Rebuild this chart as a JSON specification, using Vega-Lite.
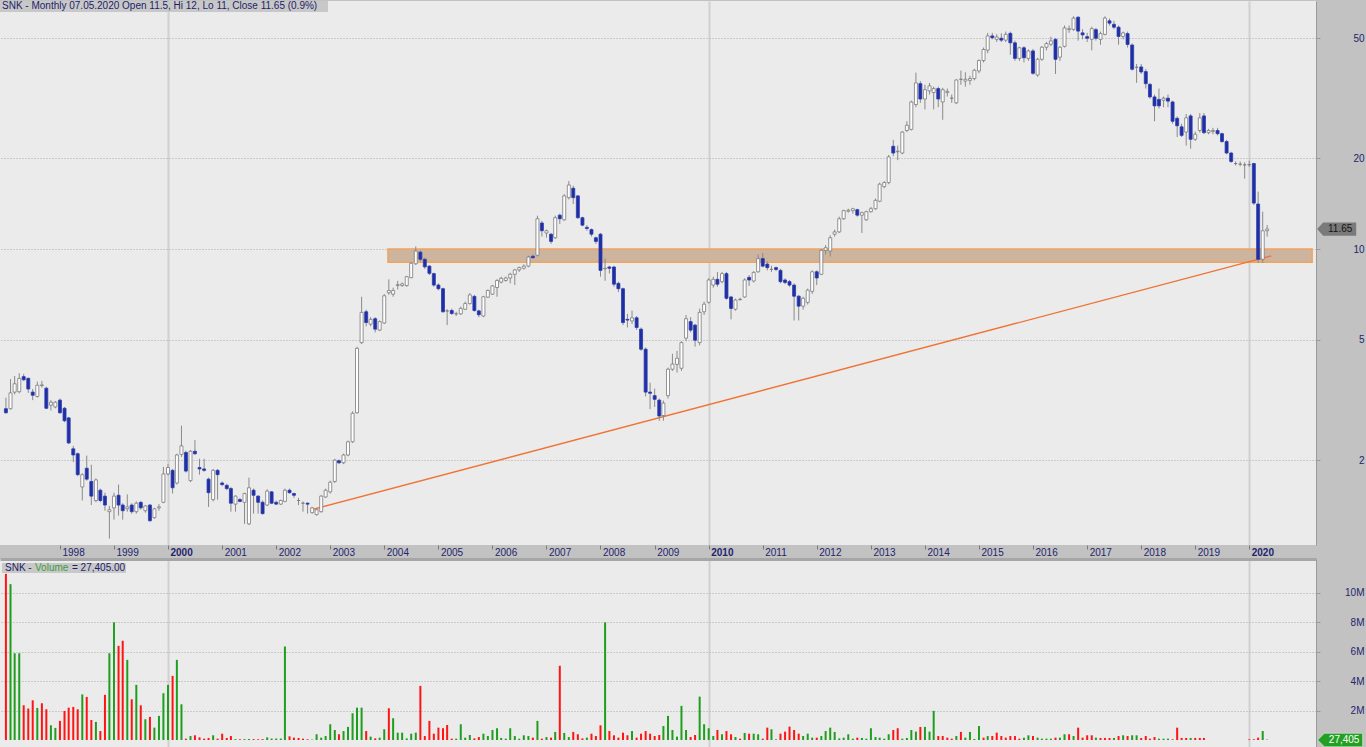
{
  "$schema": "https://vega.github.io/schema/vega-lite/v6.json",
  "background": "#c2c2c2",
  "padding": 0,
  "autosize": {"type": "pad"},
  "bounds": "flush",
  "spacing": 14,
  "config": {
    "view": {"stroke": null, "fill": "#ebebeb"},
    "axis": {"labelFont": "Liberation Sans", "labelFontSize": 10, "labelColor": "#24246c"},
    "text": {"font": "Liberation Sans", "fontSize": 10}
  },
  "datasets": {
    "p": [
      {"d":"1997-01-01","o":2.96,"h":3.22,"l":2.85,"c":2.87,"v":11.3,"g":0},
      {"d":"1997-02-01","o":2.96,"h":3.71,"l":2.94,"c":3.34,"v":10.6,"g":1},
      {"d":"1997-03-01","o":3.36,"h":3.80,"l":3.30,"c":3.58,"v":5.9,"g":1},
      {"d":"1997-04-01","o":3.37,"h":3.88,"l":3.33,"c":3.73,"v":5.9,"g":1},
      {"d":"1997-05-01","o":3.78,"h":3.86,"l":3.66,"c":3.69,"v":2.36,"g":0},
      {"d":"1997-06-01","o":3.73,"h":3.76,"l":3.34,"c":3.44,"v":2.14,"g":0},
      {"d":"1997-07-01","o":3.36,"h":3.44,"l":3.16,"c":3.28,"v":2.7,"g":0},
      {"d":"1997-08-01","o":3.25,"h":3.64,"l":3.22,"c":3.54,"v":2.18,"g":1},
      {"d":"1997-09-01","o":3.53,"h":3.66,"l":3.48,"c":3.55,"v":2.5,"g":0},
      {"d":"1997-10-01","o":3.46,"h":3.50,"l":2.95,"c":2.97,"v":2.09,"g":0},
      {"d":"1997-11-01","o":3.04,"h":3.16,"l":2.92,"c":3.11,"v":1.0,"g":1},
      {"d":"1997-12-01","o":3.00,"h":3.14,"l":2.97,"c":3.11,"v":0.82,"g":1},
      {"d":"1998-01-01","o":3.16,"h":3.20,"l":2.85,"c":2.87,"v":1.3,"g":0},
      {"d":"1998-02-01","o":2.97,"h":3.00,"l":2.67,"c":2.70,"v":1.98,"g":0},
      {"d":"1998-03-01","o":2.76,"h":2.78,"l":2.26,"c":2.28,"v":2.2,"g":0},
      {"d":"1998-04-01","o":2.18,"h":2.23,"l":1.97,"c":2.08,"v":2.25,"g":0},
      {"d":"1998-05-01","o":2.10,"h":2.12,"l":1.77,"c":1.79,"v":2.09,"g":0},
      {"d":"1998-06-01","o":1.63,"h":1.81,"l":1.47,"c":1.79,"v":3.1,"g":1},
      {"d":"1998-07-01","o":1.88,"h":2.07,"l":1.71,"c":1.73,"v":2.93,"g":0},
      {"d":"1998-08-01","o":1.70,"h":1.93,"l":1.42,"c":1.52,"v":1.36,"g":0},
      {"d":"1998-09-01","o":1.47,"h":1.74,"l":1.45,"c":1.72,"v":1.23,"g":1},
      {"d":"1998-10-01","o":1.59,"h":1.61,"l":1.45,"c":1.47,"v":0.61,"g":0},
      {"d":"1998-11-01","o":1.52,"h":1.56,"l":1.36,"c":1.42,"v":3.07,"g":0},
      {"d":"1998-12-01","o":1.35,"h":1.41,"l":1.10,"c":1.37,"v":5.9,"g":1},
      {"d":"1999-01-01","o":1.39,"h":1.56,"l":1.27,"c":1.52,"v":8.0,"g":1},
      {"d":"1999-02-01","o":1.53,"h":1.66,"l":1.31,"c":1.42,"v":6.4,"g":0},
      {"d":"1999-03-01","o":1.42,"h":1.44,"l":1.27,"c":1.36,"v":6.75,"g":0},
      {"d":"1999-04-01","o":1.38,"h":1.54,"l":1.35,"c":1.40,"v":5.45,"g":1},
      {"d":"1999-05-01","o":1.42,"h":1.44,"l":1.33,"c":1.35,"v":2.77,"g":0},
      {"d":"1999-06-01","o":1.35,"h":1.46,"l":1.33,"c":1.44,"v":3.75,"g":1},
      {"d":"1999-07-01","o":1.45,"h":1.46,"l":1.37,"c":1.39,"v":2.36,"g":0},
      {"d":"1999-08-01","o":1.36,"h":1.42,"l":1.34,"c":1.41,"v":1.41,"g":1},
      {"d":"1999-09-01","o":1.42,"h":1.43,"l":1.25,"c":1.26,"v":1.57,"g":0},
      {"d":"1999-10-01","o":1.29,"h":1.39,"l":1.28,"c":1.38,"v":0.84,"g":1},
      {"d":"1999-11-01","o":1.39,"h":1.43,"l":1.36,"c":1.40,"v":1.64,"g":1},
      {"d":"1999-12-01","o":1.45,"h":1.90,"l":1.44,"c":1.80,"v":3.18,"g":1},
      {"d":"2000-01-01","o":1.80,"h":1.94,"l":1.78,"c":1.89,"v":3.75,"g":1},
      {"d":"2000-02-01","o":1.85,"h":1.87,"l":1.55,"c":1.62,"v":4.36,"g":0},
      {"d":"2000-03-01","o":1.68,"h":2.10,"l":1.66,"c":2.08,"v":5.45,"g":1},
      {"d":"2000-04-01","o":2.09,"h":2.60,"l":2.05,"c":2.23,"v":2.43,"g":1},
      {"d":"2000-05-01","o":2.12,"h":2.15,"l":1.82,"c":1.84,"v":0.09,"g":0},
      {"d":"2000-06-01","o":1.71,"h":2.16,"l":1.69,"c":2.14,"v":0.27,"g":1},
      {"d":"2000-07-01","o":2.14,"h":2.33,"l":2.08,"c":2.10,"v":0.32,"g":0},
      {"d":"2000-08-01","o":1.89,"h":2.02,"l":1.79,"c":1.87,"v":0.18,"g":0},
      {"d":"2000-09-01","o":1.87,"h":2.02,"l":1.83,"c":1.85,"v":0.09,"g":0},
      {"d":"2000-10-01","o":1.73,"h":1.75,"l":1.40,"c":1.56,"v":0.14,"g":0},
      {"d":"2000-11-01","o":1.48,"h":1.87,"l":1.46,"c":1.85,"v":0.32,"g":1},
      {"d":"2000-12-01","o":1.85,"h":1.87,"l":1.48,"c":1.79,"v":0.09,"g":0},
      {"d":"2001-01-01","o":1.68,"h":1.70,"l":1.64,"c":1.66,"v":0.43,"g":0},
      {"d":"2001-02-01","o":1.65,"h":1.67,"l":1.59,"c":1.61,"v":0.14,"g":0},
      {"d":"2001-03-01","o":1.61,"h":1.63,"l":1.35,"c":1.44,"v":0.27,"g":0},
      {"d":"2001-04-01","o":1.43,"h":1.53,"l":1.35,"c":1.52,"v":0.06,"g":1},
      {"d":"2001-05-01","o":1.48,"h":1.50,"l":1.45,"c":1.46,"v":0.05,"g":0},
      {"d":"2001-06-01","o":1.45,"h":1.56,"l":1.23,"c":1.55,"v":0.06,"g":1},
      {"d":"2001-07-01","o":1.23,"h":1.75,"l":1.22,"c":1.62,"v":0.07,"g":1},
      {"d":"2001-08-01","o":1.59,"h":1.61,"l":1.33,"c":1.53,"v":0.06,"g":0},
      {"d":"2001-09-01","o":1.52,"h":1.53,"l":1.33,"c":1.45,"v":0.05,"g":0},
      {"d":"2001-10-01","o":1.45,"h":1.47,"l":1.32,"c":1.33,"v":0.06,"g":0},
      {"d":"2001-11-01","o":1.42,"h":1.60,"l":1.41,"c":1.58,"v":0.18,"g":1},
      {"d":"2001-12-01","o":1.57,"h":1.58,"l":1.43,"c":1.44,"v":0.1,"g":1},
      {"d":"2002-01-01","o":1.45,"h":1.47,"l":1.42,"c":1.43,"v":0.1,"g":1},
      {"d":"2002-02-01","o":1.43,"h":1.48,"l":1.42,"c":1.47,"v":0.1,"g":1},
      {"d":"2002-03-01","o":1.46,"h":1.61,"l":1.45,"c":1.59,"v":6.36,"g":1},
      {"d":"2002-04-01","o":1.59,"h":1.61,"l":1.55,"c":1.56,"v":0.25,"g":0},
      {"d":"2002-05-01","o":1.55,"h":1.56,"l":1.50,"c":1.53,"v":0.16,"g":0},
      {"d":"2002-06-01","o":1.47,"h":1.50,"l":1.42,"c":1.47,"v":0.14,"g":0},
      {"d":"2002-07-01","o":1.44,"h":1.46,"l":1.35,"c":1.44,"v":0.09,"g":0},
      {"d":"2002-08-01","o":1.44,"h":1.45,"l":1.33,"c":1.43,"v":0.05,"g":0},
      {"d":"2002-09-01","o":1.34,"h":1.40,"l":1.33,"c":1.39,"v":0.03,"g":1},
      {"d":"2002-10-01","o":1.32,"h":1.38,"l":1.31,"c":1.37,"v":0.39,"g":1},
      {"d":"2002-11-01","o":1.35,"h":1.53,"l":1.34,"c":1.52,"v":0.16,"g":1},
      {"d":"2002-12-01","o":1.51,"h":1.61,"l":1.50,"c":1.59,"v":0.27,"g":1},
      {"d":"2003-01-01","o":1.57,"h":1.71,"l":1.55,"c":1.69,"v":1.07,"g":1},
      {"d":"2003-02-01","o":1.70,"h":2.02,"l":1.68,"c":2.00,"v":0.68,"g":1},
      {"d":"2003-03-01","o":1.99,"h":2.01,"l":1.94,"c":1.96,"v":0.39,"g":0},
      {"d":"2003-04-01","o":1.96,"h":2.10,"l":1.94,"c":2.08,"v":0.61,"g":1},
      {"d":"2003-05-01","o":2.08,"h":2.32,"l":2.06,"c":2.30,"v":0.89,"g":1},
      {"d":"2003-06-01","o":2.30,"h":2.90,"l":2.28,"c":2.86,"v":1.82,"g":1},
      {"d":"2003-07-01","o":2.87,"h":4.75,"l":2.85,"c":4.69,"v":2.2,"g":1},
      {"d":"2003-08-01","o":4.90,"h":6.95,"l":4.85,"c":6.17,"v":2.2,"g":1},
      {"d":"2003-09-01","o":6.20,"h":6.30,"l":5.55,"c":5.71,"v":0.61,"g":0},
      {"d":"2003-10-01","o":5.64,"h":5.95,"l":5.55,"c":5.85,"v":0.23,"g":1},
      {"d":"2003-11-01","o":5.88,"h":5.95,"l":5.30,"c":5.43,"v":0.11,"g":0},
      {"d":"2003-12-01","o":5.39,"h":5.80,"l":5.35,"c":5.75,"v":0.16,"g":1},
      {"d":"2004-01-01","o":5.69,"h":7.10,"l":5.65,"c":7.00,"v":0.73,"g":1},
      {"d":"2004-02-01","o":7.17,"h":7.94,"l":7.05,"c":7.29,"v":2.16,"g":0},
      {"d":"2004-03-01","o":7.09,"h":7.45,"l":6.95,"c":7.29,"v":1.48,"g":1},
      {"d":"2004-04-01","o":7.58,"h":7.85,"l":7.35,"c":7.62,"v":0.5,"g":1},
      {"d":"2004-05-01","o":7.57,"h":7.75,"l":7.50,"c":7.67,"v":0.5,"g":1},
      {"d":"2004-06-01","o":7.57,"h":8.15,"l":7.50,"c":8.10,"v":0.11,"g":1},
      {"d":"2004-07-01","o":8.04,"h":9.05,"l":8.00,"c":8.97,"v":0.43,"g":1},
      {"d":"2004-08-01","o":8.94,"h":10.2,"l":8.85,"c":9.85,"v":0.5,"g":1},
      {"d":"2004-09-01","o":9.77,"h":9.90,"l":9.10,"c":9.25,"v":3.68,"g":0},
      {"d":"2004-10-01","o":9.25,"h":9.35,"l":8.60,"c":8.73,"v":0.27,"g":0},
      {"d":"2004-11-01","o":8.78,"h":8.85,"l":8.20,"c":8.31,"v":1.3,"g":0},
      {"d":"2004-12-01","o":8.29,"h":8.35,"l":7.50,"c":7.60,"v":0.43,"g":0},
      {"d":"2005-01-01","o":7.60,"h":7.70,"l":7.30,"c":7.39,"v":0.84,"g":0},
      {"d":"2005-02-01","o":7.39,"h":7.45,"l":6.15,"c":6.20,"v":0.8,"g":0},
      {"d":"2005-03-01","o":6.24,"h":6.32,"l":5.60,"c":6.24,"v":1.02,"g":0},
      {"d":"2005-04-01","o":6.26,"h":6.35,"l":6.05,"c":6.12,"v":0.09,"g":0},
      {"d":"2005-05-01","o":6.10,"h":6.20,"l":6.00,"c":6.11,"v":0.09,"g":1},
      {"d":"2005-06-01","o":6.10,"h":6.45,"l":6.05,"c":6.36,"v":1.07,"g":1},
      {"d":"2005-07-01","o":6.32,"h":6.70,"l":6.28,"c":6.60,"v":0.16,"g":1},
      {"d":"2005-08-01","o":6.60,"h":7.15,"l":6.55,"c":7.05,"v":0.34,"g":1},
      {"d":"2005-09-01","o":6.97,"h":7.05,"l":6.20,"c":6.26,"v":0.11,"g":0},
      {"d":"2005-10-01","o":6.24,"h":6.30,"l":5.95,"c":6.06,"v":0.2,"g":0},
      {"d":"2005-11-01","o":6.00,"h":7.00,"l":5.95,"c":6.95,"v":0.43,"g":1},
      {"d":"2005-12-01","o":6.93,"h":7.35,"l":6.88,"c":7.29,"v":0.27,"g":1},
      {"d":"2006-01-01","o":7.09,"h":7.60,"l":7.05,"c":7.55,"v":0.68,"g":1},
      {"d":"2006-02-01","o":7.46,"h":7.95,"l":6.95,"c":7.87,"v":0.8,"g":1},
      {"d":"2006-03-01","o":7.77,"h":8.10,"l":7.70,"c":8.00,"v":0.14,"g":1},
      {"d":"2006-04-01","o":7.87,"h":8.10,"l":7.80,"c":8.02,"v":0.09,"g":1},
      {"d":"2006-05-01","o":8.02,"h":8.35,"l":7.70,"c":8.25,"v":0.8,"g":1},
      {"d":"2006-06-01","o":8.25,"h":8.60,"l":7.60,"c":8.53,"v":0.27,"g":1},
      {"d":"2006-07-01","o":8.53,"h":8.75,"l":8.40,"c":8.68,"v":0.09,"g":1},
      {"d":"2006-08-01","o":8.64,"h":8.90,"l":8.55,"c":8.78,"v":0.32,"g":1},
      {"d":"2006-09-01","o":8.78,"h":9.50,"l":8.70,"c":9.41,"v":0.27,"g":1},
      {"d":"2006-10-01","o":9.47,"h":9.60,"l":9.30,"c":9.36,"v":0.16,"g":0},
      {"d":"2006-11-01","o":9.54,"h":12.9,"l":9.45,"c":12.6,"v":1.3,"g":1},
      {"d":"2006-12-01","o":12.2,"h":12.4,"l":11.0,"c":11.5,"v":0.09,"g":0},
      {"d":"2007-01-01","o":11.3,"h":11.6,"l":10.9,"c":11.5,"v":0.2,"g":1},
      {"d":"2007-02-01","o":11.2,"h":11.3,"l":10.4,"c":10.6,"v":0.16,"g":0},
      {"d":"2007-03-01","o":10.9,"h":12.9,"l":10.8,"c":12.7,"v":0.55,"g":1},
      {"d":"2007-04-01","o":12.95,"h":13.1,"l":12.1,"c":12.6,"v":5.05,"g":0},
      {"d":"2007-05-01","o":12.5,"h":15.2,"l":12.4,"c":15.0,"v":0.48,"g":1},
      {"d":"2007-06-01","o":14.8,"h":16.8,"l":14.6,"c":16.3,"v":0.2,"g":1},
      {"d":"2007-07-01","o":15.9,"h":16.2,"l":14.1,"c":14.8,"v":0.55,"g":0},
      {"d":"2007-08-01","o":15.0,"h":15.1,"l":12.6,"c":12.7,"v":0.39,"g":0},
      {"d":"2007-09-01","o":12.7,"h":12.8,"l":11.9,"c":12.0,"v":0.11,"g":0},
      {"d":"2007-10-01","o":11.8,"h":12.0,"l":11.5,"c":11.7,"v":0.16,"g":1},
      {"d":"2007-11-01","o":11.6,"h":11.7,"l":11.0,"c":11.2,"v":0.43,"g":0},
      {"d":"2007-12-01","o":10.9,"h":11.0,"l":10.4,"c":10.6,"v":0.27,"g":0},
      {"d":"2008-01-01","o":11.2,"h":11.3,"l":8.1,"c":8.5,"v":1.0,"g":0},
      {"d":"2008-02-01","o":8.6,"h":9.3,"l":7.85,"c":8.64,"v":8.0,"g":1},
      {"d":"2008-03-01","o":8.72,"h":8.80,"l":8.30,"c":8.64,"v":0.61,"g":0},
      {"d":"2008-04-01","o":8.72,"h":8.80,"l":7.50,"c":7.65,"v":0.32,"g":0},
      {"d":"2008-05-01","o":7.70,"h":7.80,"l":7.20,"c":7.39,"v":0.16,"g":0},
      {"d":"2008-06-01","o":7.39,"h":7.45,"l":5.60,"c":5.71,"v":0.5,"g":0},
      {"d":"2008-07-01","o":5.85,"h":6.10,"l":5.50,"c":5.82,"v":0.32,"g":0},
      {"d":"2008-08-01","o":5.78,"h":6.25,"l":5.65,"c":5.92,"v":0.61,"g":1},
      {"d":"2008-09-01","o":5.92,"h":6.00,"l":5.40,"c":5.50,"v":0.16,"g":0},
      {"d":"2008-10-01","o":5.43,"h":5.50,"l":4.60,"c":4.66,"v":0.43,"g":0},
      {"d":"2008-11-01","o":4.66,"h":4.72,"l":3.25,"c":3.36,"v":0.61,"g":0},
      {"d":"2008-12-01","o":3.36,"h":3.61,"l":2.95,"c":3.33,"v":0.43,"g":0},
      {"d":"2009-01-01","o":3.27,"h":3.45,"l":3.00,"c":3.18,"v":0.27,"g":0},
      {"d":"2009-02-01","o":3.16,"h":3.20,"l":2.70,"c":2.80,"v":0.34,"g":0},
      {"d":"2009-03-01","o":2.81,"h":3.15,"l":2.70,"c":3.09,"v":0.95,"g":1},
      {"d":"2009-04-01","o":3.27,"h":4.05,"l":3.20,"c":4.00,"v":1.64,"g":1},
      {"d":"2009-05-01","o":4.00,"h":4.50,"l":3.95,"c":4.16,"v":0.68,"g":1},
      {"d":"2009-06-01","o":4.15,"h":4.60,"l":3.90,"c":4.35,"v":0.23,"g":1},
      {"d":"2009-07-01","o":4.03,"h":4.95,"l":3.95,"c":4.90,"v":2.32,"g":1},
      {"d":"2009-08-01","o":5.07,"h":6.05,"l":4.95,"c":5.88,"v":0.68,"g":1},
      {"d":"2009-09-01","o":5.75,"h":5.95,"l":5.30,"c":5.39,"v":0.2,"g":0},
      {"d":"2009-10-01","o":5.60,"h":5.65,"l":4.75,"c":4.99,"v":0.34,"g":0},
      {"d":"2009-11-01","o":4.90,"h":6.35,"l":4.80,"c":6.17,"v":2.95,"g":1},
      {"d":"2009-12-01","o":6.20,"h":6.70,"l":6.05,"c":6.57,"v":1.07,"g":1},
      {"d":"2010-01-01","o":6.66,"h":8.00,"l":6.60,"c":7.90,"v":0.8,"g":1},
      {"d":"2010-02-01","o":7.60,"h":8.10,"l":7.45,"c":7.94,"v":0.27,"g":1},
      {"d":"2010-03-01","o":7.94,"h":8.40,"l":7.50,"c":7.65,"v":0.68,"g":0},
      {"d":"2010-04-01","o":7.80,"h":8.40,"l":7.70,"c":8.29,"v":0.39,"g":1},
      {"d":"2010-05-01","o":8.29,"h":8.40,"l":6.80,"c":6.87,"v":0.61,"g":0},
      {"d":"2010-06-01","o":6.94,"h":7.00,"l":5.85,"c":6.36,"v":0.39,"g":0},
      {"d":"2010-07-01","o":6.32,"h":6.85,"l":6.25,"c":6.78,"v":0.2,"g":1},
      {"d":"2010-08-01","o":6.80,"h":6.90,"l":6.75,"c":6.82,"v":0.09,"g":0},
      {"d":"2010-09-01","o":6.94,"h":8.00,"l":6.90,"c":7.90,"v":0.48,"g":1},
      {"d":"2010-10-01","o":8.06,"h":8.20,"l":7.55,"c":7.90,"v":0.43,"g":0},
      {"d":"2010-11-01","o":7.84,"h":8.45,"l":7.75,"c":8.37,"v":0.43,"g":1},
      {"d":"2010-12-01","o":8.41,"h":9.60,"l":8.35,"c":9.30,"v":0.39,"g":1},
      {"d":"2011-01-01","o":9.30,"h":9.70,"l":8.70,"c":8.78,"v":0.09,"g":0},
      {"d":"2011-02-01","o":8.92,"h":9.10,"l":8.50,"c":8.68,"v":0.84,"g":0},
      {"d":"2011-03-01","o":8.56,"h":8.80,"l":8.40,"c":8.56,"v":0.73,"g":1},
      {"d":"2011-04-01","o":8.68,"h":8.75,"l":8.45,"c":8.56,"v":0.05,"g":1},
      {"d":"2011-05-01","o":8.50,"h":8.60,"l":7.70,"c":7.80,"v":0.43,"g":0},
      {"d":"2011-06-01","o":7.90,"h":8.00,"l":7.65,"c":7.75,"v":0.57,"g":0},
      {"d":"2011-07-01","o":7.80,"h":7.90,"l":7.50,"c":7.60,"v":0.91,"g":0},
      {"d":"2011-08-01","o":7.60,"h":7.70,"l":5.80,"c":6.98,"v":0.68,"g":0},
      {"d":"2011-09-01","o":6.98,"h":7.05,"l":5.80,"c":6.47,"v":0.43,"g":0},
      {"d":"2011-10-01","o":6.47,"h":6.95,"l":6.30,"c":6.87,"v":0.27,"g":1},
      {"d":"2011-11-01","o":6.66,"h":7.40,"l":6.55,"c":7.31,"v":0.43,"g":1},
      {"d":"2011-12-01","o":7.24,"h":8.50,"l":7.10,"c":8.41,"v":0.16,"g":1},
      {"d":"2012-01-01","o":8.41,"h":8.50,"l":7.60,"c":8.02,"v":0.16,"g":0},
      {"d":"2012-02-01","o":8.25,"h":10.0,"l":8.20,"c":9.90,"v":0.27,"g":1},
      {"d":"2012-03-01","o":9.90,"h":10.3,"l":9.60,"c":10.1,"v":0.61,"g":1},
      {"d":"2012-04-01","o":9.85,"h":11.1,"l":9.45,"c":10.9,"v":0.84,"g":1},
      {"d":"2012-05-01","o":11.2,"h":11.6,"l":11.0,"c":11.4,"v":0.55,"g":1},
      {"d":"2012-06-01","o":11.4,"h":12.8,"l":11.3,"c":12.6,"v":0.11,"g":1},
      {"d":"2012-07-01","o":12.6,"h":13.5,"l":12.5,"c":13.4,"v":0.16,"g":1},
      {"d":"2012-08-01","o":13.35,"h":13.6,"l":13.2,"c":13.45,"v":0.39,"g":1},
      {"d":"2012-09-01","o":13.4,"h":13.7,"l":13.1,"c":13.6,"v":0.09,"g":1},
      {"d":"2012-10-01","o":13.5,"h":13.6,"l":12.8,"c":12.95,"v":0.16,"g":0},
      {"d":"2012-11-01","o":12.95,"h":13.3,"l":11.3,"c":13.2,"v":0.14,"g":1},
      {"d":"2012-12-01","o":12.5,"h":13.4,"l":12.4,"c":13.3,"v":0.09,"g":1},
      {"d":"2013-01-01","o":13.3,"h":13.8,"l":13.2,"c":13.6,"v":0.8,"g":1},
      {"d":"2013-02-01","o":13.6,"h":14.7,"l":13.5,"c":14.5,"v":0.2,"g":1},
      {"d":"2013-03-01","o":14.4,"h":16.6,"l":14.3,"c":16.4,"v":0.16,"g":1},
      {"d":"2013-04-01","o":16.1,"h":16.8,"l":15.9,"c":16.6,"v":0.09,"g":1},
      {"d":"2013-05-01","o":16.6,"h":20.5,"l":16.4,"c":20.2,"v":0.39,"g":1},
      {"d":"2013-06-01","o":21.9,"h":23.0,"l":20.3,"c":20.8,"v":0.68,"g":0},
      {"d":"2013-07-01","o":21.0,"h":22.0,"l":19.7,"c":21.1,"v":0.8,"g":0},
      {"d":"2013-08-01","o":20.8,"h":24.6,"l":20.6,"c":24.4,"v":0.09,"g":1},
      {"d":"2013-09-01","o":24.7,"h":26.5,"l":24.4,"c":25.7,"v":0.14,"g":1},
      {"d":"2013-10-01","o":24.9,"h":31.0,"l":24.7,"c":30.7,"v":0.68,"g":1},
      {"d":"2013-11-01","o":30.1,"h":38.4,"l":29.5,"c":35.5,"v":0.57,"g":1},
      {"d":"2013-12-01","o":35.3,"h":36.0,"l":30.5,"c":31.4,"v":0.89,"g":0},
      {"d":"2014-01-01","o":31.4,"h":35.0,"l":29.0,"c":33.7,"v":0.89,"g":1},
      {"d":"2014-02-01","o":33.4,"h":35.5,"l":32.5,"c":34.7,"v":0.57,"g":1},
      {"d":"2014-03-01","o":33.0,"h":34.5,"l":29.0,"c":34.0,"v":1.98,"g":1},
      {"d":"2014-04-01","o":34.0,"h":34.5,"l":29.5,"c":31.4,"v":0.27,"g":0},
      {"d":"2014-05-01","o":30.7,"h":34.2,"l":26.8,"c":33.7,"v":0.27,"g":0},
      {"d":"2014-06-01","o":33.0,"h":34.0,"l":32.0,"c":33.3,"v":0.16,"g":0},
      {"d":"2014-07-01","o":31.6,"h":32.5,"l":30.5,"c":31.6,"v":0.09,"g":0},
      {"d":"2014-08-01","o":30.5,"h":36.5,"l":30.2,"c":36.3,"v":0.27,"g":1},
      {"d":"2014-09-01","o":36.5,"h":39.0,"l":35.0,"c":36.5,"v":0.55,"g":0},
      {"d":"2014-10-01","o":36.0,"h":38.5,"l":34.5,"c":36.5,"v":0.16,"g":1},
      {"d":"2014-11-01","o":36.2,"h":37.5,"l":35.0,"c":36.7,"v":0.55,"g":1},
      {"d":"2014-12-01","o":36.7,"h":39.5,"l":36.2,"c":39.1,"v":0.07,"g":1},
      {"d":"2015-01-01","o":38.9,"h":42.5,"l":38.2,"c":42.1,"v":0.95,"g":1},
      {"d":"2015-02-01","o":42.1,"h":46.5,"l":41.5,"c":45.8,"v":0.16,"g":0},
      {"d":"2015-03-01","o":45.6,"h":52.0,"l":44.5,"c":50.8,"v":0.27,"g":1},
      {"d":"2015-04-01","o":50.8,"h":52.0,"l":49.5,"c":50.1,"v":0.27,"g":0},
      {"d":"2015-05-01","o":49.5,"h":51.5,"l":48.5,"c":50.4,"v":0.5,"g":0},
      {"d":"2015-06-01","o":49.9,"h":51.8,"l":48.5,"c":49.2,"v":0.27,"g":0},
      {"d":"2015-07-01","o":49.2,"h":52.5,"l":48.5,"c":51.4,"v":0.16,"g":0},
      {"d":"2015-08-01","o":51.8,"h":52.5,"l":44.0,"c":48.2,"v":0.27,"g":0},
      {"d":"2015-09-01","o":48.2,"h":49.0,"l":42.0,"c":42.8,"v":0.27,"g":0},
      {"d":"2015-10-01","o":42.8,"h":46.8,"l":42.0,"c":46.4,"v":0.09,"g":0},
      {"d":"2015-11-01","o":46.4,"h":47.0,"l":41.5,"c":43.0,"v":0.16,"g":1},
      {"d":"2015-12-01","o":42.8,"h":45.8,"l":42.0,"c":45.3,"v":0.32,"g":1},
      {"d":"2016-01-01","o":45.3,"h":46.0,"l":37.8,"c":38.2,"v":0.27,"g":0},
      {"d":"2016-02-01","o":37.7,"h":43.0,"l":37.2,"c":42.5,"v":0.16,"g":1},
      {"d":"2016-03-01","o":42.5,"h":47.0,"l":42.0,"c":46.6,"v":0.09,"g":1},
      {"d":"2016-04-01","o":46.6,"h":48.5,"l":45.5,"c":47.9,"v":0.09,"g":1},
      {"d":"2016-05-01","o":47.7,"h":50.5,"l":47.0,"c":48.9,"v":0.09,"g":1},
      {"d":"2016-06-01","o":49.5,"h":50.0,"l":38.0,"c":42.5,"v":0.16,"g":0},
      {"d":"2016-07-01","o":43.2,"h":47.0,"l":42.0,"c":46.6,"v":0.16,"g":1},
      {"d":"2016-08-01","o":46.9,"h":55.0,"l":46.5,"c":54.0,"v":0.39,"g":1},
      {"d":"2016-09-01","o":53.3,"h":55.0,"l":52.0,"c":53.7,"v":0.39,"g":0},
      {"d":"2016-10-01","o":53.4,"h":59.0,"l":52.8,"c":58.2,"v":0.27,"g":1},
      {"d":"2016-11-01","o":58.6,"h":59.0,"l":49.0,"c":52.7,"v":0.84,"g":0},
      {"d":"2016-12-01","o":52.0,"h":53.5,"l":49.5,"c":51.2,"v":0.16,"g":0},
      {"d":"2017-01-01","o":50.5,"h":52.0,"l":48.5,"c":49.9,"v":0.32,"g":0},
      {"d":"2017-02-01","o":49.5,"h":54.5,"l":45.5,"c":53.7,"v":0.32,"g":0},
      {"d":"2017-03-01","o":53.3,"h":54.0,"l":49.0,"c":49.9,"v":0.16,"g":1},
      {"d":"2017-04-01","o":49.5,"h":52.5,"l":47.5,"c":51.7,"v":0.14,"g":0},
      {"d":"2017-05-01","o":51.4,"h":59.0,"l":51.0,"c":58.2,"v":0.14,"g":0},
      {"d":"2017-06-01","o":57.0,"h":58.0,"l":55.0,"c":56.0,"v":0.14,"g":0},
      {"d":"2017-07-01","o":55.5,"h":57.0,"l":53.5,"c":54.3,"v":0.14,"g":1},
      {"d":"2017-08-01","o":54.3,"h":55.0,"l":47.5,"c":50.6,"v":0.27,"g":0},
      {"d":"2017-09-01","o":50.6,"h":52.5,"l":49.5,"c":52.0,"v":0.32,"g":1},
      {"d":"2017-10-01","o":51.7,"h":52.5,"l":46.5,"c":47.6,"v":0.27,"g":0},
      {"d":"2017-11-01","o":47.4,"h":48.0,"l":39.0,"c":39.4,"v":0.32,"g":1},
      {"d":"2017-12-01","o":40.0,"h":41.0,"l":35.5,"c":40.0,"v":0.32,"g":1},
      {"d":"2018-01-01","o":40.1,"h":41.0,"l":38.0,"c":38.6,"v":0.14,"g":0},
      {"d":"2018-02-01","o":38.7,"h":39.5,"l":34.0,"c":35.3,"v":0.27,"g":0},
      {"d":"2018-03-01","o":35.1,"h":35.5,"l":31.5,"c":31.9,"v":0.09,"g":0},
      {"d":"2018-04-01","o":31.9,"h":32.5,"l":26.5,"c":29.8,"v":0.2,"g":0},
      {"d":"2018-05-01","o":31.3,"h":34.0,"l":29.2,"c":29.8,"v":0.09,"g":1},
      {"d":"2018-06-01","o":31.1,"h":32.0,"l":29.5,"c":31.6,"v":0.09,"g":1},
      {"d":"2018-07-01","o":31.6,"h":32.5,"l":29.5,"c":30.9,"v":0.09,"g":1},
      {"d":"2018-08-01","o":30.7,"h":31.0,"l":26.0,"c":26.5,"v":0.05,"g":0},
      {"d":"2018-09-01","o":27.1,"h":27.5,"l":23.5,"c":25.6,"v":0.84,"g":0},
      {"d":"2018-10-01","o":25.4,"h":26.0,"l":23.5,"c":23.8,"v":0.14,"g":0},
      {"d":"2018-11-01","o":24.4,"h":28.0,"l":22.0,"c":27.2,"v":0.14,"g":0},
      {"d":"2018-12-01","o":27.6,"h":28.0,"l":21.5,"c":23.1,"v":0.14,"g":1},
      {"d":"2019-01-01","o":23.1,"h":24.5,"l":22.8,"c":24.0,"v":0.14,"g":0},
      {"d":"2019-02-01","o":24.7,"h":28.2,"l":24.3,"c":27.2,"v":0.14,"g":0},
      {"d":"2019-03-01","o":27.6,"h":28.2,"l":24.0,"c":24.3,"v":0.14,"g":0},
      {"d":"2019-04-01","o":24.3,"h":25.0,"l":24.0,"c":24.7,"v":0,"g":1},
      {"d":"2019-05-01","o":24.5,"h":25.2,"l":24.0,"c":24.7,"v":0,"g":1},
      {"d":"2019-06-01","o":24.7,"h":25.2,"l":23.8,"c":24.1,"v":0,"g":1},
      {"d":"2019-07-01","o":24.1,"h":24.3,"l":22.5,"c":22.7,"v":0,"g":1},
      {"d":"2019-08-01","o":22.7,"h":23.0,"l":20.6,"c":20.8,"v":0,"g":1},
      {"d":"2019-09-01","o":20.8,"h":21.0,"l":19.3,"c":19.5,"v":0,"g":1},
      {"d":"2019-10-01","o":19.2,"h":19.5,"l":18.9,"c":19.2,"v":0,"g":1},
      {"d":"2019-11-01","o":19.1,"h":19.5,"l":18.8,"c":19.1,"v":0,"g":1},
      {"d":"2019-12-01","o":19.0,"h":19.4,"l":17.1,"c":19.0,"v":0,"g":1},
      {"d":"2020-01-01","o":19.0,"h":19.6,"l":18.7,"c":19.05,"v":0.05,"g":0},
      {"d":"2020-02-01","o":19.2,"h":19.3,"l":14.0,"c":14.2,"v":0.05,"g":0},
      {"d":"2020-03-01","o":14.1,"h":15.5,"l":9.0,"c":9.25,"v":0.16,"g":0},
      {"d":"2020-04-01","o":9.25,"h":13.3,"l":9.0,"c":11.5,"v":0.61,"g":1},
      {"d":"2020-05-01","o":11.5,"h":12.0,"l":11.0,"c":11.65,"v":0.027,"g":1}
    ]
  },
  "resolve": {"scale": {"x": "independent", "y": "independent"}},
  "vconcat": [
    {
      "width": 1316,
      "height": 544,
      "layer": [
        {
          "data": {"values": [{"d": "2004-01-26", "d2": "2021-03-01", "lo": 9.05, "hi": 10.0}]},
          "mark": {"type": "rect", "fill": "#ccb49e", "stroke": "#f2a35e", "strokeWidth": 1.5},
          "encoding": {
            "x": {"field": "d", "type": "temporal", "title": null,
              "scale": {"type": "utc", "padding": 0, "domain": [{"year": 1996, "month": 11, "date": 22, "utc": true}, {"year": 2021, "month": 3, "date": 27, "utc": true}]},
              "axis": {
                "orient": "bottom",
                "values": [{"year":1998,"utc":true},{"year":1999,"utc":true},{"year":2000,"utc":true},{"year":2001,"utc":true},{"year":2002,"utc":true},{"year":2003,"utc":true},{"year":2004,"utc":true},{"year":2005,"utc":true},{"year":2006,"utc":true},{"year":2007,"utc":true},{"year":2008,"utc":true},{"year":2009,"utc":true},{"year":2010,"utc":true},{"year":2011,"utc":true},{"year":2012,"utc":true},{"year":2013,"utc":true},{"year":2014,"utc":true},{"year":2015,"utc":true},{"year":2016,"utc":true},{"year":2017,"utc":true},{"year":2018,"utc":true},{"year":2019,"utc":true},{"year":2020,"utc":true}],
                "format": "%Y",
                "labelAlign": "left",
                "labelOffset": 2,
                "labelPadding": -2,
                "labelBaseline": "top",
                "tickSize": 4,
                "tickColor": "#7a7a7a",
                "domain": false,
                "grid": true,
                "gridColor": "#d0d0d0",
                "gridWidth": 2,
                "gridOpacity": {"condition": {"test": "utcyear(datum.value) % 10 === 0", "value": 1}, "value": 0},
                "labelFontWeight": {"condition": {"test": "utcyear(datum.value) % 10 === 0", "value": "bold"}, "value": "normal"}
              }
            },
            "x2": {"field": "d2"},
            "y": {"field": "lo", "type": "quantitative", "title": null,
              "scale": {"type": "log", "domain": [1.047, 66.3], "nice": false, "zero": false},
              "axis": {
                "orient": "right",
                "values": [2, 5, 10, 20, 50],
                "tickSize": 4,
                "tickColor": "#9a9a9a",
                "domainColor": "#9a9a9a",
                "labelAlign": "right",
                "labelBaseline": "middle",
                "labelPadding": 44,
                "minExtent": 50,
                "maxExtent": 50,
                "grid": true,
                "gridColor": "#a8a8a8",
                "gridDash": [1, 2],
                "format": "d"
              }
            },
            "y2": {"field": "hi"}
          }
        },
        {
          "data": {"values": [{"d": "2002-08-28", "p": 1.37}, {"d": "2020-05-28", "p": 9.5}]},
          "mark": {"type": "line", "color": "#f07234", "strokeWidth": 1.3},
          "encoding": {
            "x": {"field": "d", "type": "temporal", "title": null},
            "y": {"field": "p", "type": "quantitative", "title": null}
          }
        },
        {
          "data": {"name": "p"},
          "mark": {"type": "rule", "color": "#8a8a8a", "strokeWidth": 1},
          "encoding": {
            "x": {"field": "d", "type": "temporal", "title": null},
            "y": {"field": "l", "type": "quantitative", "title": null},
            "y2": {"field": "h"}
          }
        },
        {
          "data": {"name": "p"},
          "mark": {"type": "bar", "width": 3, "strokeWidth": 0.8},
          "encoding": {
            "x": {"field": "d", "type": "temporal", "title": null},
            "y": {"field": "o", "type": "quantitative", "title": null},
            "y2": {"field": "c"},
            "fill": {"condition": {"test": "datum.c >= datum.o", "value": "#ffffff"}, "value": "#1f2f9f"},
            "stroke": {"condition": {"test": "datum.c >= datum.o", "value": "#7a7a7a"}, "value": "#2b3bb5"}
          }
        },
        {
          "data": {"values": [{}]},
          "mark": {"type": "point", "shape": "M-1,-0.0335L1,-0.0335L1,0.0335L-1,0.0335Z", "size": 107584, "filled": true, "fill": "#c8c8c8", "opacity": 1, "strokeWidth": 0},
          "encoding": {
            "x": {"datum": {"year": 1999, "month": 12, "date": 5, "utc": true}, "type": "temporal"},
            "y": {"datum": 63.6, "type": "quantitative"}
          }
        },
        {
          "data": {"values": [{}]},
          "mark": {"type": "text", "text": "SNK - Monthly 07.05.2020 Open 11.5, Hi 12, Lo 11, Close 11.65 (0.9%)", "align": "left", "baseline": "middle", "dx": 2, "color": "#1d1d6b", "fontSize": 10},
          "encoding": {
            "x": {"datum": {"year": 1996, "month": 11, "date": 22, "utc": true}, "type": "temporal"},
            "y": {"datum": 63.6, "type": "quantitative"}
          }
        },
        {
          "data": {"values": [{}]},
          "mark": {"type": "point", "shape": "M-1,0L-0.7,-0.33L0.95,-0.33L0.95,0.33L-0.7,0.33Z", "size": 1600, "filled": true, "fill": "#7a7a7a", "opacity": 1, "strokeWidth": 0},
          "encoding": {
            "x": {"datum": {"year": 2021, "month": 8, "date": 17, "utc": true}, "type": "temporal"},
            "y": {"datum": 11.65, "type": "quantitative"}
          }
        },
        {
          "data": {"values": [{}]},
          "mark": {"type": "text", "text": "11.65", "align": "center", "baseline": "middle", "dx": 3, "color": "#151515", "fontSize": 10},
          "encoding": {
            "x": {"datum": {"year": 2021, "month": 8, "date": 17, "utc": true}, "type": "temporal"},
            "y": {"datum": 11.65, "type": "quantitative"}
          }
        }
      ]
    },
    {
      "width": 1316,
      "height": 189,
      "layer": [
        {
          "data": {"name": "p"},
          "mark": {"type": "bar", "width": 2},
          "encoding": {
            "x": {"field": "d", "type": "temporal", "title": null,
              "scale": {"type": "utc", "padding": 0, "domain": [{"year": 1996, "month": 11, "date": 22, "utc": true}, {"year": 2021, "month": 3, "date": 27, "utc": true}]},
              "axis": {
                "orient": "top",
                "values": [{"year":2000,"utc":true},{"year":2010,"utc":true},{"year":2020,"utc":true}],
                "labels": false,
                "ticks": false,
                "domain": true,
                "domainColor": "#a6a6a6",
                "domainWidth": 3,
                "grid": true,
                "gridColor": "#d0d0d0",
                "gridWidth": 2
              }
            },
            "y": {"field": "v", "type": "quantitative", "title": null,
              "scale": {"domain": [-0.544, 12.31], "nice": false, "zero": false},
              "axis": {
                "orient": "right",
                "values": [2, 4, 6, 8, 10],
                "labelExpr": "datum.value + 'M'",
                "tickSize": 4,
                "tickColor": "#9a9a9a",
                "domainColor": "#9a9a9a",
                "labelAlign": "right",
                "labelBaseline": "middle",
                "labelPadding": 44,
                "minExtent": 50,
                "maxExtent": 50,
                "grid": true,
                "gridColor": "#a8a8a8",
                "gridDash": [1, 2]
              }
            },
            "y2": {"datum": 0},
            "color": {"condition": {"test": "datum.g === 1", "value": "#1e9e1e"}, "value": "#ff1414"}
          }
        },
        {
          "data": {"values": [{}]},
          "mark": {"type": "point", "shape": "M-1,-0.0813L1,-0.0813L1,0.0813L-1,0.0813Z", "size": 15376, "filled": true, "fill": "#c8c8c8", "opacity": 1, "strokeWidth": 0},
          "encoding": {
            "x": {"datum": {"year": 1998, "month": 1, "date": 28, "utc": true}, "type": "temporal"},
            "y": {"datum": 11.7, "type": "quantitative"}
          }
        },
        {
          "data": {"values": [{}]},
          "mark": {"type": "text", "text": "SNK -", "align": "left", "baseline": "middle", "dx": 5, "color": "#1d1d6b", "fontSize": 10},
          "encoding": {
            "x": {"datum": {"year": 1996, "month": 11, "date": 22, "utc": true}, "type": "temporal"},
            "y": {"datum": 11.7, "type": "quantitative"}
          }
        },
        {
          "data": {"values": [{}]},
          "mark": {"type": "text", "text": "Volume", "align": "left", "baseline": "middle", "dx": 35, "color": "#3c9c3c", "fontSize": 10},
          "encoding": {
            "x": {"datum": {"year": 1996, "month": 11, "date": 22, "utc": true}, "type": "temporal"},
            "y": {"datum": 11.7, "type": "quantitative"}
          }
        },
        {
          "data": {"values": [{}]},
          "mark": {"type": "text", "text": "= 27,405.00", "align": "left", "baseline": "middle", "dx": 72, "color": "#1d1d6b", "fontSize": 10},
          "encoding": {
            "x": {"datum": {"year": 1996, "month": 11, "date": 22, "utc": true}, "type": "temporal"},
            "y": {"datum": 11.7, "type": "quantitative"}
          }
        },
        {
          "data": {"values": [{}]},
          "mark": {"type": "point", "shape": "M-1,0L-0.7,-0.3L1,-0.3L1,0.3L-0.7,0.3Z", "size": 2025, "filled": true, "fill": "#23a023", "opacity": 1, "stroke": "#e0f0e0", "strokeWidth": 0.6},
          "encoding": {
            "x": {"datum": {"year": 2021, "month": 9, "date": 6, "utc": true}, "type": "temporal"},
            "y": {"datum": 0, "type": "quantitative"}
          }
        },
        {
          "data": {"values": [{}]},
          "mark": {"type": "text", "text": "27,405", "align": "center", "baseline": "middle", "dx": 4, "color": "#ffffff", "fontSize": 10},
          "encoding": {
            "x": {"datum": {"year": 2021, "month": 9, "date": 6, "utc": true}, "type": "temporal"},
            "y": {"datum": 0, "type": "quantitative"}
          }
        }
      ]
    }
  ]
}
